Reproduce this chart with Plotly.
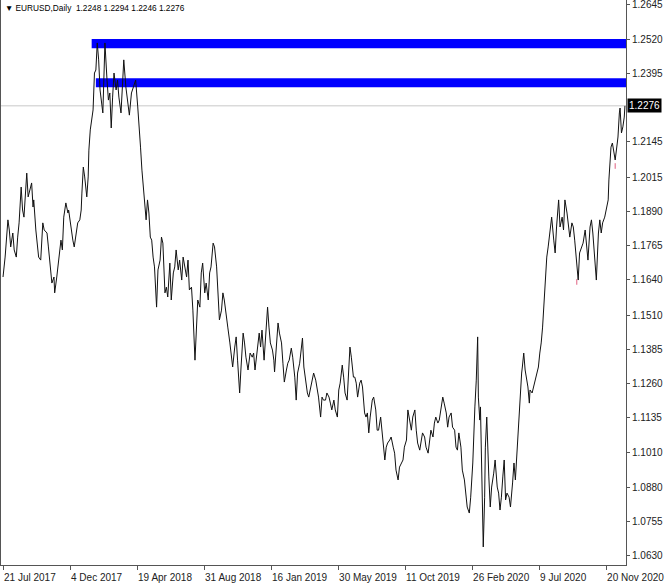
import plotly.graph_objects as go

# ---- data (bar index on the daily chart, closing price) ----
bar_index = [
    0, 3, 7, 9, 11, 14, 16, 19, 21, 23, 26, 28, 30, 33, 34, 36, 39, 41, 43, 44,
    47, 50, 51, 54, 57, 59, 63, 65, 67, 70, 73, 74, 77, 80, 83, 85, 87, 90, 93, 94,
    97, 100, 102, 104, 107, 110, 112, 113, 115, 117, 120, 122, 123, 125, 127, 129, 131, 133, 135, 137,
    139, 143, 144, 146, 149, 151, 153, 155, 157, 159, 162, 164, 166, 169, 171, 173, 176, 178, 181, 184,
    188, 190, 193, 195, 197, 199, 201, 203, 205, 207, 209, 211, 213, 215, 217, 220, 222, 225, 227, 229,
    232, 234, 236, 239, 241, 244, 246, 248, 251, 253, 256, 258, 260, 263, 265, 267, 270, 272, 275, 277,
    279, 282, 284, 286, 289, 291, 294, 296, 298, 301, 303, 306, 308, 310, 313, 315, 317, 320, 322, 325,
    327, 329, 332, 334, 336, 339, 341, 344, 346, 348, 351, 354,
    357, 359, 361, 363, 365, 367, 369, 371, 374, 376, 379, 381, 383, 386, 388, 389, 391, 394, 396, 399,
    401, 403, 406, 408, 410, 413, 415, 418, 420, 422, 425, 427, 429, 431, 433, 436, 438, 440, 443, 445,
    448, 450, 452, 455, 457, 459, 462, 464, 467, 469, 471, 474, 476, 479, 481, 483, 486, 488, 490, 493,
    495, 497, 499, 502, 504, 506, 508, 511, 513, 515, 518, 520, 522, 524, 526, 529, 531, 534,
    536, 538, 541, 543, 545, 547, 549, 551, 554, 556, 559, 561, 563, 566, 568, 571, 573, 575, 578, 580,
    583, 585, 587, 590, 592, 594, 597, 599, 601, 604, 606, 609, 611, 613, 616, 618, 620, 623, 625, 627,
    630, 632, 635, 637, 639, 642, 644, 647, 649, 651, 653, 656, 658, 661, 663, 665, 668, 670, 673, 675,
    676, 678, 680, 681, 683, 684, 686, 687, 688, 690, 691, 693, 694, 696, 698, 700, 703, 705, 708, 710, 712,
    714, 716, 718, 720, 722, 725, 727, 730, 732, 734, 735, 737, 739, 741, 743, 744, 746, 748, 750, 752,
    754, 755, 758, 760, 762, 765, 767, 769, 771, 773, 775, 777, 779, 781, 784, 786, 789, 791, 793, 796,
    798, 801, 803, 805, 808, 810, 812, 815, 817, 819, 822, 824, 826, 829, 831, 834, 836, 838, 841, 843,
    845, 848, 850, 853, 855, 857, 859, 862, 865, 867, 868, 871, 873, 875, 877, 880, 881, 883, 884, 886,
    888, 890, 891,
]
close_price = [
    1.1650, 1.1723, 1.1859, 1.1822, 1.1760, 1.1811, 1.1749, 1.1723, 1.1796, 1.1848, 1.1979, 1.1895, 1.1869, 1.1968, 1.2030, 1.1943, 1.1979, 1.1994, 1.1906, 1.1932,
    1.1822, 1.1760, 1.1723, 1.1712, 1.1848, 1.1822, 1.1811, 1.1760, 1.1701, 1.1628, 1.1650, 1.1592, 1.1650, 1.1723, 1.1785, 1.1749, 1.1869, 1.1921, 1.1884, 1.1895,
    1.1833, 1.1785, 1.1760, 1.1796, 1.1848, 1.1859, 1.1895, 1.1957, 1.2052, 1.2016, 1.1943, 1.2016, 1.2114, 1.2188, 1.2224, 1.2261, 1.2396, 1.2407, 1.2506, 1.2444,
    1.2334, 1.2250, 1.2334, 1.2506, 1.2370, 1.2297, 1.2323, 1.2195, 1.2308, 1.2396, 1.2334, 1.2370, 1.2308, 1.2250, 1.2345, 1.2444, 1.2345, 1.2308, 1.2242, 1.2323,
    1.2359, 1.2370, 1.2272, 1.2213, 1.2125, 1.2041, 1.1979, 1.1943, 1.1859, 1.1932, 1.1884, 1.1796, 1.1785, 1.1723, 1.1687, 1.1540, 1.1676, 1.1712, 1.1796, 1.1774,
    1.1592, 1.1613, 1.1577, 1.1701, 1.1566, 1.1665, 1.1687, 1.1749, 1.1676, 1.1712, 1.1639, 1.1723, 1.1687, 1.1650, 1.1712, 1.1603, 1.1613, 1.1529, 1.1346, 1.1445,
    1.1566, 1.1540, 1.1665, 1.1701, 1.1592, 1.1628, 1.1566, 1.1665, 1.1687, 1.1774, 1.1760, 1.1687, 1.1603, 1.1493, 1.1529, 1.1592, 1.1566, 1.1493, 1.1467, 1.1409,
    1.1372, 1.1321, 1.1394, 1.1431, 1.1346, 1.1226, 1.1321, 1.1445, 1.1409, 1.1357, 1.1310, 1.1372,
    1.1357, 1.1372, 1.1310, 1.1357, 1.1409, 1.1445, 1.1394, 1.1456, 1.1346, 1.1445, 1.1540, 1.1467, 1.1409, 1.1383, 1.1346, 1.1303, 1.1394, 1.1482, 1.1445, 1.1409,
    1.1335, 1.1266, 1.1310, 1.1335, 1.1346, 1.1390, 1.1357, 1.1284, 1.1200, 1.1299, 1.1335, 1.1372, 1.1427, 1.1321, 1.1284, 1.1226, 1.1211, 1.1237, 1.1262, 1.1299,
    1.1273, 1.1248, 1.1211, 1.1138, 1.1211, 1.1200, 1.1200, 1.1226, 1.1211, 1.1189, 1.1164, 1.1200, 1.1164, 1.1138, 1.1237, 1.1262, 1.1328, 1.1284, 1.1226, 1.1200,
    1.1321, 1.1394, 1.1357, 1.1284, 1.1284, 1.1262, 1.1211, 1.1262, 1.1273, 1.1248, 1.1153, 1.1138, 1.1153, 1.1080, 1.1138, 1.1200, 1.1211, 1.1164,
    1.1090, 1.1090, 1.1138, 1.1090, 1.1043, 1.0981, 1.1028, 1.1043, 1.1054, 1.1065, 1.1028, 1.1006, 1.0944, 1.0908, 1.0955, 1.0970, 1.0981, 1.1028, 1.1054, 1.1164,
    1.1127, 1.1090, 1.1138, 1.1164, 1.1090, 1.1043, 1.1017, 1.1043, 1.1080, 1.1065, 1.1028, 1.1006, 1.1043, 1.1090, 1.1065, 1.1116, 1.1138, 1.1116, 1.1127, 1.1164,
    1.1211, 1.1189, 1.1153, 1.1101, 1.1138, 1.1153, 1.1101, 1.1090, 1.1028, 1.1017, 1.1080, 1.1028, 1.0944, 1.0908, 1.0845, 1.0809, 1.0787, 1.0845, 1.0970, 1.1138,
    1.1175, 1.1273, 1.1431, 1.1211, 1.1127, 1.1175, 1.0970, 1.0772, 1.0663, 1.0845, 1.1028, 1.1138, 1.1043, 1.0919, 1.0809, 1.0882, 1.0933, 1.0981, 1.0882, 1.0860, 1.0798,
    1.0845, 1.0919, 1.0981, 1.0835, 1.0860, 1.0845, 1.0809, 1.0897, 1.0970, 1.0908, 1.0955, 1.1054, 1.1127, 1.1200, 1.1299, 1.1321, 1.1372, 1.1310, 1.1284, 1.1248,
    1.1189, 1.1237, 1.1226, 1.1248, 1.1262, 1.1299, 1.1321, 1.1372, 1.1409, 1.1467, 1.1566, 1.1650, 1.1723, 1.1760, 1.1833, 1.1869, 1.1785, 1.1738, 1.1833, 1.1932,
    1.1833, 1.1869, 1.1822, 1.1932, 1.1884, 1.1833, 1.1796, 1.1848, 1.1833, 1.1785, 1.1676, 1.1639, 1.1738, 1.1760, 1.1774, 1.1822, 1.1760, 1.1712, 1.1833, 1.1859,
    1.1811, 1.1687, 1.1639, 1.1811, 1.1859, 1.1811, 1.1848, 1.1869, 1.1906, 1.1932, 1.2005, 1.2125, 1.2140, 1.2103, 1.2078, 1.2140, 1.2162, 1.2250, 1.2268, 1.2177,
    1.2199, 1.2235, 1.2276,
]

# fractal marks (small red ticks)
fractal_bar = [822, 877]
fractal_price = [1.1632, 1.2056]

# horizontal resistance zones (bottom, top, starting bar)
zone_low = [1.2487, 1.2344]
zone_high = [1.2520, 1.2377]
zone_start = [127, 133]

last_price = 1.2276
header_text = "▼ EURUSD,Daily  1.2248 1.2294 1.2246 1.2276"

x_tick_bars = [0, 96, 192, 288, 384, 480, 576, 672, 768, 864]
x_tick_text = ["21 Jul 2017", "4 Dec 2017", "19 Apr 2018", "31 Aug 2018", "16 Jan 2019",
               "30 May 2019", "11 Oct 2019", "26 Feb 2020", "9 Jul 2020", "20 Nov 2020"]
y_tick_vals = [1.2645, 1.2520, 1.2395, 1.2145, 1.2015, 1.1890, 1.1765, 1.1640,
               1.1510, 1.1385, 1.1260, 1.1135, 1.1010, 1.0880, 1.0755, 1.0630]

X_MIN, X_MAX = -2.9, 892.5
Y_MIN, Y_MAX = 1.0597, 1.2663
FONT = "Liberation Sans, Arial, sans-serif"

fig = go.Figure()
fig.add_trace(go.Scatter(x=bar_index, y=close_price, mode="lines",
                         line=dict(color="#111111", width=1), hoverinfo="skip",
                         showlegend=False))
fig.add_trace(go.Scatter(x=fractal_bar, y=fractal_price, mode="markers",
                         marker=dict(symbol="line-ns", size=4,
                                     line=dict(color="#e06080", width=1)),
                         hoverinfo="skip", showlegend=False))

for lo, hi, st in zip(zone_low, zone_high, zone_start):
    fig.add_shape(type="rect", xref="x", yref="y", x0=st, x1=X_MAX, y0=lo, y1=hi,
                  fillcolor="#0000ff", line=dict(width=0), layer="below")

fig.add_shape(type="line", xref="paper", yref="y", x0=0, x1=1, y0=last_price, y1=last_price,
              line=dict(color="#c8c8c8", width=1), layer="below")

fig.add_annotation(xref="paper", yref="y", x=1, y=last_price, text=f"{last_price:.4f}",
                   showarrow=False, xanchor="left", yanchor="middle", xshift=1,
                   bgcolor="#000000", font=dict(family=FONT, size=10, color="#ffffff"),
                   borderpad=1)
fig.add_annotation(xref="paper", yref="paper", x=0, y=1, text=header_text,
                   showarrow=False, xanchor="left", yanchor="top", xshift=2, yshift=-1,
                   font=dict(family=FONT, size=8.3, color="#000000"))

fig.update_xaxes(range=[X_MIN, X_MAX], tickvals=x_tick_bars, ticktext=x_tick_text,
                 ticks="outside", ticklen=4, tickcolor="#555555",
                 ticklabelposition="outside right", ticklabelstandoff=3,
                 ticklabeloverflow="allow",
                 showline=True, linecolor="#555555", linewidth=1,
                 showgrid=False, zeroline=False,
                 tickfont=dict(family=FONT, size=10, color="#222222"))
fig.update_yaxes(range=[Y_MIN, Y_MAX], side="right", tickvals=y_tick_vals,
                 ticktext=[f"{v:.4f}" for v in y_tick_vals],
                 ticks="outside", ticklen=3, tickcolor="#555555",
                 ticklabeloverflow="allow",
                 showline=True, mirror=True, linecolor="#555555", linewidth=1,
                 showgrid=False, zeroline=False,
                 tickfont=dict(family=FONT, size=10, color="#222222"))

fig.update_layout(width=665, height=583, margin=dict(l=1, r=39, t=0, b=18),
                  paper_bgcolor="#ffffff", plot_bgcolor="#ffffff", showlegend=False)

fig.write_html("out.html", config={"displayModeBar": False},
               post_script="document.body.style.margin='0';document.body.style.overflow='hidden';")
